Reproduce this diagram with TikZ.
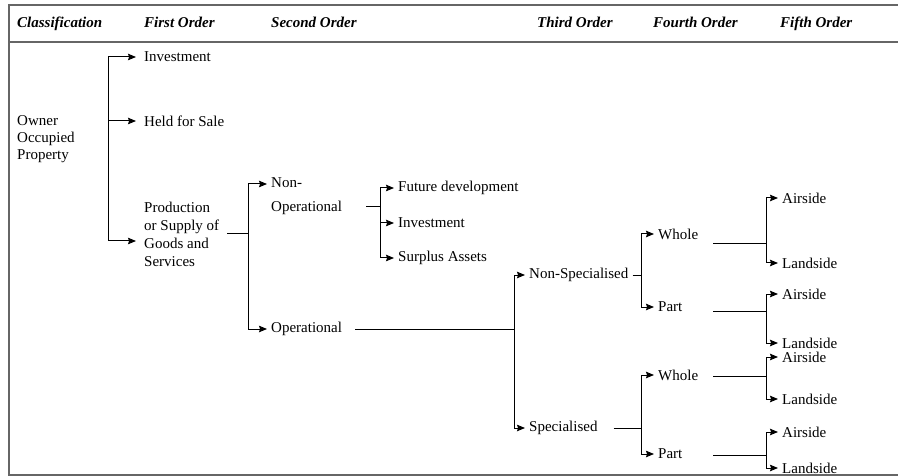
\documentclass[tikz,border=0pt]{standalone}
\usepackage{fontspec}
\setmainfont{Liberation Serif}
\usetikzlibrary{arrows.meta}

\tikzset{
  colhead/.style={anchor=base west, inner sep=0pt, font=\fontsize{15}{18}\selectfont\bfseries\itshape},
  entry/.style={anchor=west, inner xsep=4pt, inner ysep=0pt, align=left, font=\fontsize{15}{18}\selectfont},
  link/.style={line width=1pt},
  tablerule/.style={line width=1.4pt, draw=black!60},
}

\begin{document}
\begin{tikzpicture}[x=1pt, y=-1pt, >={Stealth[length=8pt,width=6.5pt,inset=1pt]}]
\useasboundingbox (0,0) rectangle (898,476);

% table frame
\draw[tablerule] (898,5) -- (9,5) -- (9,475) -- (898,475);
\draw[tablerule] (9,42) -- (898,42);

% column heads
\node[colhead] (hcls) at (17,28) {Classification};
\foreach \x/\n/\t in {144/hfirst/First Order, 271/hsecond/Second Order, 537/hthird/Third Order, 653/hfourth/Fourth Order, 780/hfifth/Fifth Order}
  \node[colhead] (\n) at (\x,28) {\t};

% entries
\node[entry, inner xsep=0pt, font=\fontsize{15}{17}\selectfont] (owner) at (17,139) {Owner\\Occupied\\Property};
\node[entry, inner xsep=8pt] (inv) at (136,57) {Investment};
\node[entry, inner xsep=8pt] (sale) at (136,121) {Held for Sale};
\node[entry, inner xsep=8pt] (prod) at (136,234) {Production\\or Supply of\\Goods and\\Services};
\node[entry, font=\fontsize{15}{24}\selectfont] (nonop) at (267,196) {Non-\\Operational};
\node[entry] (op) at (267,329) {Operational};
\node[entry] (fut) at (394,188) {Future development};
\node[entry] (inv2) at (394,223) {Investment};
\node[entry] (surplus) at (394,258) {Surplus Assets};
\node[entry] (nspec) at (525,275) {Non-Specialised};
\node[entry] (spec) at (525,428) {Specialised};
\node[entry] (whole1) at (654,234) {Whole};
\node[entry] (part1) at (654,307) {Part};
\node[entry] (whole2) at (654,375) {Whole};
\node[entry] (part2) at (654,454) {Part};

% first order
\coordinate (j1) at (108,0);
\coordinate (prodin) at ([yshift=-7pt]prod.west);
\draw[link] (inv -| j1) -- (prodin -| j1);
\foreach \n in {inv,sale,prodin} \draw[link,->] (\n -| j1) -- (\n);

% second order
\coordinate (j2) at (248,0);
\coordinate (nonopin) at ([yshift=12pt]nonop.west);
\draw[link] (prod.east) -- (prod -| j2);
\draw[link] (nonopin -| j2) -- (op -| j2);
\foreach \n in {nonopin,op} \draw[link,->] (\n -| j2) -- (\n);

% third order
\coordinate (j3) at (380,0);
\coordinate (nonopout) at ([yshift=-11pt]nonop.east);
\draw[link] ([xshift=20pt]nonopout) -- (nonopout -| j3);
\draw[link] (fut -| j3) -- (surplus -| j3);
\foreach \n in {fut,inv2,surplus} \draw[link,->] (\n -| j3) -- (\n);

\coordinate (j4) at (514,0);
\draw[link] ([xshift=9pt]op.east) -- (op -| j4);
\draw[link] (nspec -| j4) -- (spec -| j4);
\foreach \n in {nspec,spec} \draw[link,->] (\n -| j4) -- (\n);

% fourth order
\coordinate (j5) at (641,0);
\draw[link] (nspec.east) -- (nspec -| j5);
\draw[link] ([xshift=12pt]spec.east) -- (spec -| j5);
\draw[link] (whole1 -| j5) -- (part1 -| j5);
\draw[link] (whole2 -| j5) -- (part2 -| j5);
\foreach \n in {whole1,part1,whole2,part2} \draw[link,->] (\n -| j5) -- (\n);

% fifth order
\coordinate (j6) at (766,0);
\foreach \g/\ya/\yl/\ys in {whole1/198/263/244, part1/294/343/311, whole2/357/399/376, part2/432/468/455}{
  \node[entry] (air\g) at (778,\ya) {Airside};
  \node[entry] (land\g) at (778,\yl) {Landside};
  \coordinate (stem\g) at (713,\ys);
  \draw[link] (stem\g) -- (stem\g -| j6);
  \draw[link] (air\g -| j6) -- (land\g -| j6);
  \foreach \n in {air\g,land\g} \draw[link,->] (\n -| j6) -- (\n);
}
\end{tikzpicture}
\end{document}
